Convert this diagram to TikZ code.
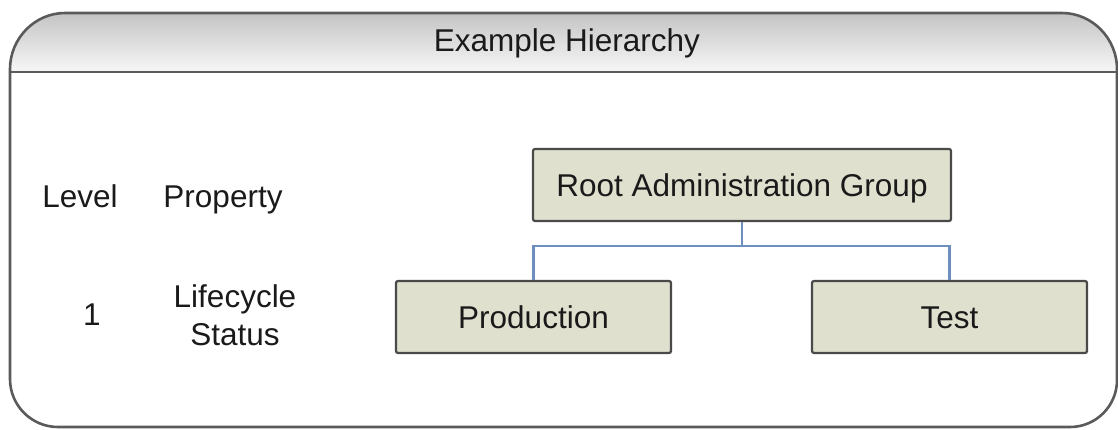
\documentclass[tikz,border=0pt]{standalone}
\usepackage{fontspec}
\setmainfont{Liberation Sans}
\definecolor{framecol}{HTML}{5A5A5A}
\definecolor{boxfill}{HTML}{DFE0CD}
\definecolor{boxline}{HTML}{4A4A4A}
\definecolor{linkcol}{HTML}{6E8EC0}
\definecolor{hdtop}{HTML}{C4C4C4}
\definecolor{hdbot}{HTML}{F7F7F7}
\definecolor{txtcol}{HTML}{1A1A1A}
\tikzset{
  bigfont/.style={font=\fontsize{31.5}{38}\selectfont, text=txtcol},
  orgbox/.style={draw=boxline, line width=2.2pt, fill=boxfill, rounded corners=2pt,
    minimum height=72pt, inner sep=0pt, bigfont, text height=22.5pt, text depth=0pt},
  label/.style={bigfont, inner sep=0pt},
  link/.style={draw=linkcol, line width=2.2pt},
  framestyle/.style={draw=framecol, line width=2.6pt}
}
\begin{document}
\begin{tikzpicture}[x=1pt,y=-1pt]
\useasboundingbox (0,0) rectangle (1118,429);
% header shading
\path[top color=hdtop, bottom color=hdbot]
  (10,72) -- (10,69) .. controls (10,38.6) and (34.6,13) .. (65,13)
  -- (1062,13) .. controls (1092.4,13) and (1117,38.6) .. (1117,69)
  -- (1117,72) -- cycle;
% frame
\draw[framestyle]
  (10,69) .. controls (10,38.6) and (34.6,13) .. (65,13)
  -- (1062,13) .. controls (1092.4,13) and (1117,38.6) .. (1117,69)
  -- (1117,380) .. controls (1117,406) and (1096,427) .. (1070,427)
  -- (58,427) .. controls (31.5,427) and (10,405.5) .. (10,379) -- cycle;
\draw[framestyle] (10,72) -- (1117,72);
\node[label, anchor=base] (title) at (567,51) {Example Hierarchy};
% labels
\node[label, anchor=base] (level) at (80,207) {Level};
\node[label, anchor=base] (prop) at (223,207) {Property};
\node[label, anchor=base] (one) at (92,325) {1};
\node[label, align=center] (life) at (235,315) {Lifecycle\\Status};
% org chart
\node[orgbox, minimum width=418pt] (root) at (742,185) {Root Administration Group};
\node[orgbox, minimum width=275pt] (prod) at (533.5,317) {Production};
\node[orgbox, minimum width=275pt] (test) at (949.5,317) {Test};
\coordinate (split) at ([yshift=-24pt]root.south);
\draw[link] (root.south) -- (split) -| (prod.north);
\draw[link] (split) -| (test.north);
\end{tikzpicture}
\end{document}
